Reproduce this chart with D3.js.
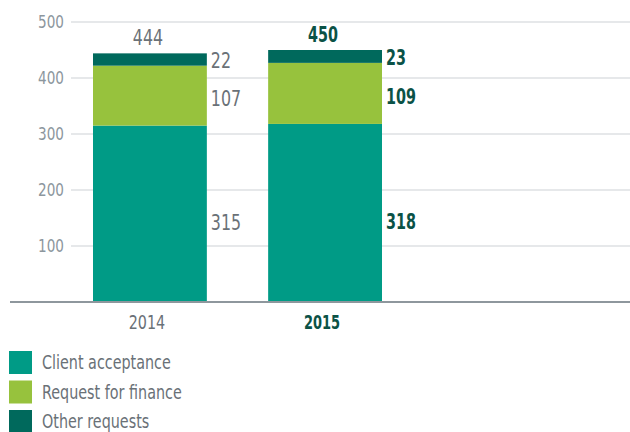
<!DOCTYPE html>
<html>
<head>
<meta charset="utf-8">
<script src="https://cdn.jsdelivr.net/npm/d3@7/dist/d3.min.js"></script>
<style>
  html, body { margin: 0; padding: 0; background: #fff; }
  svg { display: block; font-family: "DejaVu Sans", sans-serif; font-stretch: condensed; }
</style>
</head>
<body>
<svg id="chart" width="630" height="432"></svg>
<script>
// Data
const years = ["2014", "2015"];
const seriesNames = ["Client acceptance", "Request for finance", "Other requests"];
const clientAcceptance = [315, 318];
const requestForFinance = [107, 109];
const otherRequests = [22, 23];
const totals = [444, 450];
const yTicks = [100, 200, 300, 400, 500];

const colors = ["#009B86", "#97C23D", "#00695C"];
const labelColors = ["#6A7177", "#0B5246"];
const labelWeights = ["normal", "bold"];
// horizontal squeeze for a narrow, tall type look
const squeeze = { normal: 0.84, bold: 0.76 };

const svg = d3.select("#chart");
const baseY = 302;

const y = d3.scaleLinear().domain([0, 500]).range([baseY, 22]);
const x = d3.scaleBand().domain(years).range([93, 382]).paddingInner(0.35).paddingOuter(0);

// positions a text by transform so it can be squeezed horizontally
function place(sel, fx, fy, fw) {
  sel.attr("transform", (d, i) => `translate(${fx(d, i)},${fy(d, i)}) scale(${squeeze[fw(d, i)]},1)`);
}

// table for stacking
const rows = years.map((yr, i) => ({
  year: yr,
  "Client acceptance": clientAcceptance[i],
  "Request for finance": requestForFinance[i],
  "Other requests": otherRequests[i],
  idx: i
}));
const stack = d3.stack().keys(seriesNames)(rows);

// gridlines
svg.append("g").selectAll("line").data(yTicks).join("line")
  .attr("x1", 71).attr("x2", 630)
  .attr("y1", d => y(d)).attr("y2", d => y(d))
  .attr("stroke", "#CDD2D6").attr("stroke-width", 1.2);

// y tick labels
svg.append("g").selectAll("text").data(yTicks).join("text")
  .call(place, () => 64, d => y(d), () => "normal")
  .attr("dy", "0.36em")
  .attr("text-anchor", "end")
  .attr("fill", "#8C969D")
  .attr("font-size", 18)
  .text(d => d);

// bars
const layers = svg.append("g").selectAll("g").data(stack).join("g")
  .attr("fill", (d, i) => colors[i]);
layers.selectAll("rect").data(d => d).join("rect")
  .attr("x", d => x(d.data.year))
  .attr("width", x.bandwidth())
  .attr("y", d => y(d[1]))
  .attr("height", d => y(d[0]) - y(d[1]));

// segment value labels (right of bars)
stack.forEach(layer => {
  svg.append("g").selectAll("text").data(layer).join("text")
    .call(place,
      d => x(d.data.year) + x.bandwidth() + 4,
      d => y(d[0] + (d[1] - d[0]) * 0.45),
      d => labelWeights[d.data.idx])
    .attr("dy", "0.36em")
    .attr("fill", d => labelColors[d.data.idx])
    .attr("font-weight", d => labelWeights[d.data.idx])
    .attr("font-size", 21)
    .text(d => d[1] - d[0]);
});

// totals above bars
svg.append("g").selectAll("text").data(years).join("text")
  .call(place,
    d => x(d) + x.bandwidth() / 2 - 2,
    (d, i) => y(totals[i]) - 8,
    (d, i) => labelWeights[i])
  .attr("text-anchor", "middle")
  .attr("fill", (d, i) => labelColors[i])
  .attr("font-weight", (d, i) => labelWeights[i])
  .attr("font-size", 21)
  .text((d, i) => totals[i]);

// baseline
svg.append("line")
  .attr("x1", 10).attr("x2", 630)
  .attr("y1", y(0)).attr("y2", y(0))
  .attr("stroke", "#8E979D").attr("stroke-width", 2);

// year labels
svg.append("g").selectAll("text").data(years).join("text")
  .call(place,
    d => x(d) + x.bandwidth() / 2 - 3,
    () => 329,
    (d, i) => labelWeights[i])
  .attr("text-anchor", "middle")
  .attr("fill", (d, i) => labelColors[i])
  .attr("font-weight", (d, i) => labelWeights[i])
  .attr("font-size", 19)
  .text(d => d);

// legend
const legend = svg.append("g").selectAll("g").data(seriesNames).join("g")
  .attr("transform", (d, i) => `translate(9, ${351 + i * 29.5})`);
legend.append("rect")
  .attr("width", 23).attr("height", 23)
  .attr("fill", (d, i) => colors[i]);
legend.append("text")
  .call(place, () => 33, () => 11.5, () => "normal")
  .attr("dy", "0.36em")
  .attr("fill", "#6A7177")
  .attr("font-size", 19)
  .text(d => d);
</script>
</body>
</html>
